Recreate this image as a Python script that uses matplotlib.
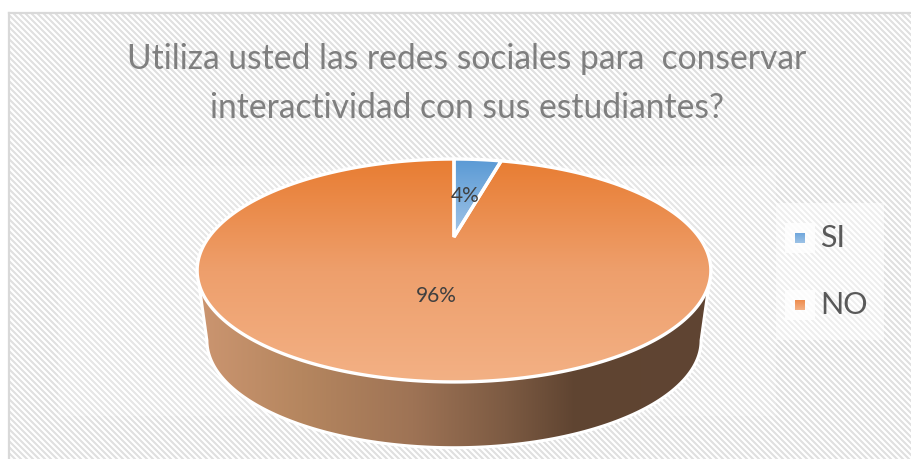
import numpy as np
import matplotlib
matplotlib.use("Agg")
import matplotlib.pyplot as plt
from matplotlib.colors import LinearSegmentedColormap
from matplotlib.patches import Polygon, Rectangle

categories = ["SI", "NO"]
shares = [4, 96]
title_lines = ["Utiliza usted las redes sociales para  conservar",
               "interactividad con sus estudiantes?"]

W, H = 912, 459
CX, CY = 454.0, 237.0      # projected pie centre (pixels)
RX, RY, K = 245.0, 101.4, 0.3005  # perspective projection of the disc


def project(theta):
    """Clockwise angle from 12 o'clock -> pixel position on the tilted disc."""
    u, v = np.sin(theta), np.cos(theta)
    d = 1 + K * v
    return CX + RX * u / d, CY - RY * v / d


def wedge(start, stop):
    t = np.linspace(start, stop, 400)
    x, y = project(t)
    return np.column_stack([np.r_[CX, x], np.r_[CY, y]])


def gradient(ax, clip, extent, stops, horizontal=False, z=3):
    cmap = LinearSegmentedColormap.from_list("g", stops)
    g = np.linspace(0, 1, 256)
    g = g[None, :] if horizontal else g[:, None]
    im = ax.imshow(g, cmap=cmap, extent=extent, aspect="auto", zorder=z,
                   vmin=0, vmax=1, interpolation="bilinear")
    im.set_clip_path(clip)


fig = plt.figure(figsize=(W / 100, H / 100), dpi=100, facecolor="white")
ax = fig.add_axes([0, 0, 1, 1])
ax.axis("off")

# striped chart background
yy, xx = np.mgrid[0:H, 0:W]
phase = (xx - yy) % 6
stripes = np.clip(0.5 + 0.8 * np.cos(phase / 6 * 2 * np.pi), 0, 1)
bg = 1 - stripes * (1 - 0.875)
mask = (xx >= 9) & (yy >= 13)
bg = np.where(mask, bg, 1.0)
# lighter plot area and legend panel
panels = [(58, 166, 776, 416, 0.2), (776, 203, 884, 340, 0.45)]
for x0, y0, x1, y1, alpha in panels:
    inside = (xx >= x0) & (xx < x1) & (yy >= y0) & (yy < y1)
    bg = np.where(inside, bg + (1 - bg) * alpha, bg)
ax.imshow(bg, cmap="gray", vmin=0, vmax=1, extent=(0, W, H, 0),
          aspect="auto", zorder=0, interpolation="bilinear")
ax.plot([9, 9], [13, H], color="#D9D9D9", lw=1.6, zorder=1)
ax.plot([9, W], [13, 13], color="#D9D9D9", lw=1.6, zorder=1)

# title
for line, y in zip(title_lines, [59, 108]):
    ax.text(467, y, line, ha="center", va="center", family="Lato",
            fontsize=24.2, color="#7F7F7F", zorder=2)

# angles
fractions = np.array(shares) / sum(shares)
edges = np.r_[0, np.cumsum(fractions)] * 2 * np.pi

# pie side wall
tx, ty = project(np.linspace(0, 2 * np.pi, 720))
top_left, top_right = tx.min(), tx.max()
top_mid = ty[np.argmin(tx)]
drop, shrink = 70.0, 0.962
t = np.linspace(np.pi / 2, 3 * np.pi / 2, 300)
ecx, ecy = (tx.min() + tx.max()) / 2, (ty.min() + ty.max()) / 2
ea, eb = (tx.max() - tx.min()) / 2, (ty.max() - ty.min()) / 2
sx = ecx + ea * shrink * np.sin(t)
sy = ecy + drop + eb * shrink * -np.cos(t)
side_pts = np.column_stack([np.r_[top_right, sx, top_left],
                            np.r_[top_mid, sy, top_mid]])
side = Polygon(side_pts, closed=True, fc="none", ec="none", transform=ax.transData)
ax.add_patch(side)
gradient(ax, side, (200, 708, 450, 200),
         [(0, "#CB9570"), (0.2, "#B5865F"), (0.42, "#9E7355"), (0.6, "#7D5B43"),
          (0.74, "#5F4431"), (1, "#604533")],
         horizontal=True, z=3)
ax.add_patch(Polygon(side_pts, closed=True, fc="none", ec="white", lw=2.2, zorder=4))

# pie top: one polygon per category
slice_stops = [["#5A9AD5", "#A3C5E7"], ["#E87C31", "#EE9F6C", "#F3B185"]]
slice_extents = [(440, 510, 237, 159), (190, 720, 384, 157)]
for i in range(len(shares) - 1, -1, -1):
    pts = wedge(edges[i], edges[i + 1])
    p = Polygon(pts, closed=True, fc="none", ec="none")
    ax.add_patch(p)
    gradient(ax, p, slice_extents[i], slice_stops[i], z=5)
    ax.add_patch(Polygon(pts, closed=True, fc="none", ec="white", lw=2.4,
                         joinstyle="miter", zorder=6))

# data labels
label_pos = [(465, 196), (436, 296)]
for v, (x, y) in zip(shares, label_pos):
    ax.text(x, y, f"{v}%", ha="center", va="center", family="Lato",
            fontsize=15, color="#404040", zorder=7)

# legend
legend_y = [238, 305]
marker_stops = [["#6FA6DC", "#9DC3E6"], ["#EE8C4D", "#F3B185"]]
for name, y, st in zip(categories, legend_y, marker_stops):
    ax.add_patch(Rectangle((785, y - 15), 30, 30, fc="white", ec="none", alpha=0.8, zorder=2))
    m = Rectangle((795, y - 5), 10, 10, fc="none", ec="none")
    ax.add_patch(m)
    gradient(ax, m, (795, 805, y + 5, y - 5), st, z=3)
    ax.text(820, y, name, ha="left", va="center", family="Lato",
            fontsize=22, color="#595959", zorder=3)

ax.set_xlim(0, W)
ax.set_ylim(H, 0)
fig.savefig("out.png", dpi=100)
